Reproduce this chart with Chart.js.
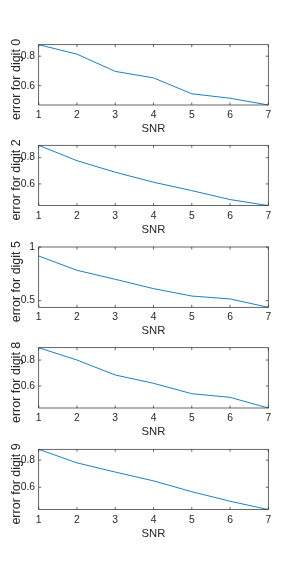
<!DOCTYPE html>
<html><head><meta charset="utf-8">
<script src="https://cdn.jsdelivr.net/npm/chart.js@4.4.1/dist/chart.umd.min.js"></script>
<style>
html,body{margin:0;padding:0;background:#fff;width:296px;height:588px;overflow:hidden;position:relative}
canvas{position:absolute;left:0}
</style></head><body>
<script>
// ---- data ----
const snr = [1, 2, 3, 4, 5, 6, 7];
const xTicks = [1, 2, 3, 4, 5, 6, 7];
const digitNames = ['0', '2', '5', '8', '9'];

const errDigit0 = [0.878, 0.814, 0.697, 0.653, 0.545, 0.515, 0.469];
const errDigit2 = [0.894, 0.777, 0.689, 0.613, 0.549, 0.481, 0.435];
const errDigit5 = [0.916, 0.783, 0.699, 0.612, 0.543, 0.516, 0.438];
const errDigit8 = [0.895, 0.800, 0.685, 0.621, 0.541, 0.513, 0.431];
const errDigit9 = [0.880, 0.780, 0.712, 0.647, 0.567, 0.497, 0.435];

const yTicks0 = [0.6, 0.8];
const yTicks2 = [0.6, 0.8];
const yTicks5 = [0.5, 1];
const yTicks8 = [0.6, 0.8];
const yTicks9 = [0.6, 0.8];

const yLim0 = [0.469, 0.878];
const yLim2 = [0.435, 0.894];
const yLim5 = [0.438, 1.0];
const yLim8 = [0.431, 0.895];
const yLim9 = [0.435, 0.880];

const seriesList = [errDigit0, errDigit2, errDigit5, errDigit8, errDigit9];
const tickList = [yTicks0, yTicks2, yTicks5, yTicks8, yTicks9];
const limList = [yLim0, yLim2, yLim5, yLim8, yLim9];

// ---- layout / style ----
const W = 296;
const panelTop = [44.7, 145.3, 247, 347.7, 449.3];
const panelH = 60.3;
const axisLeft = 38.7, axisRight = 268.3;
const xAxisH = 40;
const TXT = '#262626';
const FONT = "'Liberation Sans', Arial, Helvetica, sans-serif";
const LINE = '#0072BD';

const boxPlugin = {
  id: 'matlabBox',
  afterDraw(chart, args, opts) {
    const {ctx, chartArea: a, scales: {x, y}} = chart;
    ctx.save();
    ctx.strokeStyle = TXT;
    ctx.lineWidth = 0.7;
    ctx.strokeRect(a.left, a.top, a.right - a.left, a.bottom - a.top);
    const tl = 2.5;
    ctx.beginPath();
    x.ticks.forEach(t => {
      const px = x.getPixelForValue(t.value);
      ctx.moveTo(px, a.bottom); ctx.lineTo(px, a.bottom - tl);
      ctx.moveTo(px, a.top); ctx.lineTo(px, a.top + tl);
    });
    y.ticks.forEach(t => {
      const py = y.getPixelForValue(t.value);
      ctx.moveTo(a.left, py); ctx.lineTo(a.left + tl, py);
      ctx.moveTo(a.right, py); ctx.lineTo(a.right - tl, py);
    });
    ctx.stroke();
    // y-axis label (rotated), MATLAB style
    ctx.fillStyle = TXT;
    ctx.font = "12.5px " + FONT;
    ctx.textAlign = 'center';
    ctx.textBaseline = 'alphabetic';
    ctx.translate(19.5, (a.top + a.bottom) / 2 + 4.5);
    ctx.rotate(-Math.PI / 2);
    ctx.fillText(opts.label, 0, 0);
    ctx.restore();
  }
};

digitNames.forEach((d, i) => {
  const top = panelTop[i];
  const canvasTop = Math.floor(top) - 24;
  const padTop = top - canvasTop;
  const H = Math.ceil(padTop + panelH + xAxisH) + 1;
  const padBottom = H - padTop - panelH - xAxisH;
  const cv = document.createElement('canvas');
  cv.width = W; cv.height = H;
  cv.style.top = canvasTop + 'px';
  cv.style.width = W + 'px'; cv.style.height = H + 'px';
  document.body.appendChild(cv);
  const yt = tickList[i];
  new Chart(cv, {
    type: 'line',
    data: {
      labels: snr,
      datasets: [{
        data: snr.map((s, k) => ({x: s, y: seriesList[i][k]})),
        borderColor: LINE, borderWidth: 0.9, pointRadius: 0, tension: 0, fill: false, clip: 3
      }]
    },
    options: {
      responsive: false, animation: false, devicePixelRatio: 1,
      layout: {padding: {top: padTop, bottom: padBottom, left: 0, right: W - axisRight}},
      plugins: {legend: {display: false}, tooltip: {enabled: false}, matlabBox: {label: 'error for digit ' + d}},
      scales: {
        x: {
          type: 'linear', min: 1, max: 7,
          afterBuildTicks: s => { s.ticks = xTicks.map(v => ({value: v})); },
          afterFit: s => { s.height = xAxisH; },
          grid: {display: false, drawTicks: false},
          border: {display: false},
          ticks: {padding: 4, color: TXT, font: {family: FONT, size: 10.3}, autoSkip: false, maxRotation: 0, callback: v => String(v)},
          title: {display: true, text: 'SNR', color: TXT, font: {family: FONT, size: 11.3, lineHeight: 1}, padding: {top: 0, bottom: 10.5}}
        },
        y: {
          type: 'linear', min: limList[i][0], max: limList[i][1],
          afterBuildTicks: s => { s.ticks = yt.map(v => ({value: v})); },
          afterFit: s => { s.width = axisLeft; },
          grid: {display: false, drawTicks: false},
          border: {display: false},
          ticks: {padding: 3.7, color: TXT, font: {family: FONT, size: 10.3}, autoSkip: false, callback: v => String(v)},
          title: {display: false}
        }
      }
    },
    plugins: [boxPlugin]
  });
});
</script>
</body></html>
